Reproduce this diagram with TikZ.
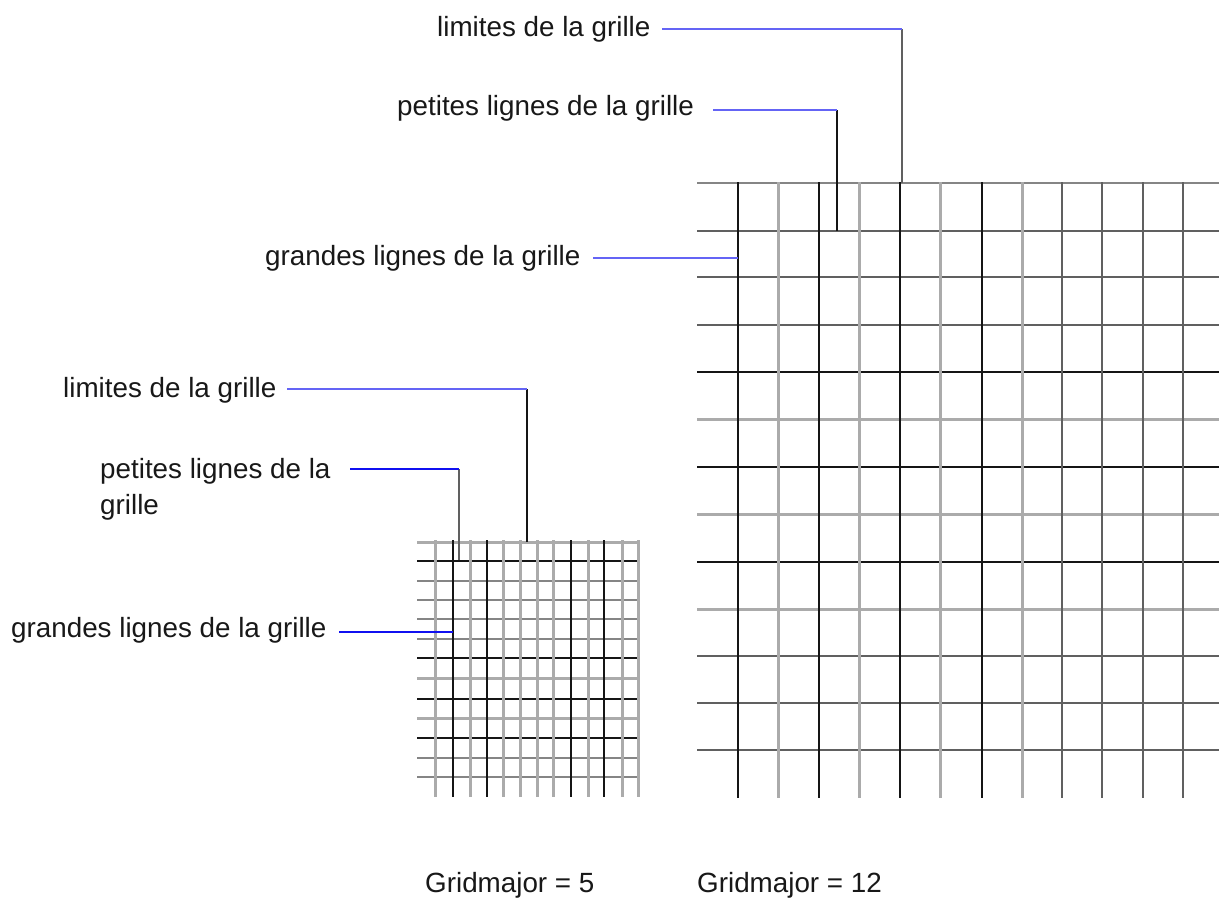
\documentclass[tikz,border=0pt]{standalone}
\usepackage{fontspec}
\setmainfont{Liberation Sans}
\begin{document}
\begin{tikzpicture}[x=1pt,y=-1pt,
  lab/.style={anchor=base west,inner sep=0pt,text=txt,font=\fontsize{27.8}{36}\selectfont},
  gl/.style={line width=3pt,draw=lightg},
  gm/.style={line width=2.8pt,draw=midg},
  gd/.style={line width=2.6pt,draw=darkg},
  gb/.style={line width=2.3pt,draw=blk},
  leadA/.style={line width=2.2pt,draw=blueA},
  leadB/.style={line width=2.2pt,draw=blueB},
  drop/.style={line width=2.5pt}]
\definecolor{lightg}{HTML}{ABABAB}
\definecolor{midg}{HTML}{858585}
\definecolor{darkg}{HTML}{606060}
\definecolor{blk}{HTML}{151515}
\definecolor{txt}{HTML}{181818}
\definecolor{blueA}{HTML}{6464F5}
\definecolor{blueB}{HTML}{1010F0}
\useasboundingbox (0,0) rectangle (1219,907);
\fill[white] (0,0) rectangle (1219,907);

% ---------- big grid (Gridmajor = 12) ----------
\foreach \y/\s in {183/gm,231/gd,277/gd,325/gd,372/gb,419/gl,467/gb,514/gl,562/gb,609/gl,656/gd,703/gd,750/gd}
  \draw[\s] (697,\y) -- (1219,\y);
\foreach \x/\s in {738/gb,778/gl,819/gb,859/gl,900/gb,940/gl,982/gb,1022/gl,1062/gd,1102/gd,1143/gd,1183/gd}
  \draw[\s] (\x,182) -- (\x,798);

% ---------- small grid (Gridmajor = 5) ----------
\foreach \y/\s in {542/gl,561/gb,581/gm,600/gm,619/gm,639/gm,658/gb,678/gl,699/gb,718/gl,738/gb,758/gm,777/gm}
  \draw[\s] (417,\y) -- (639,\y);
\foreach \x/\s in {435/gl,453/gb,470/gl,487/gb,503/gl,520/gl,537/gl,553/gl,571/gb,588/gl,604/gb,622/gl,638/gl}
  \draw[\s] (\x,540) -- (\x,797);

% ---------- labels ----------
\node[lab] (tl) at (437,37) {limites de la grille};
\node[lab] (tp) at (397,115) {petites lignes de la grille};
\node[lab] (tg) at (265,265) {grandes lignes de la grille};
\node[lab] (sl) at (63,397) {limites de la grille};
\node[lab,align=left] (sp) at (100,514) {petites lignes de la\\grille};
\node[lab] (sg) at (11,637) {grandes lignes de la grille};
\node[lab] (g5) at (425,892) {Gridmajor = 5};
\node[lab] (g12) at (697,892) {Gridmajor = 12};

% ---------- leader coordinates ----------
\coordinate (tlS) at (662,29);  \coordinate (tlC) at (902,29);  \coordinate (tlE) at (902,183);
\coordinate (tpS) at (713,110); \coordinate (tpC) at (837,110); \coordinate (tpE) at (837,231);
\coordinate (tgS) at (593,258); \coordinate (tgE) at (738,258);
\coordinate (slS) at (287,389); \coordinate (slC) at (527,389); \coordinate (slE) at (527,542);
\coordinate (spS) at (350,469); \coordinate (spC) at (459,469); \coordinate (spE) at (459,560);
\coordinate (sgS) at (339,632); \coordinate (sgE) at (453,632);

\draw[drop,draw=darkg] (tlC) -- (tlE);
\draw[leadA] (tlS) -- (tlC);
\draw[drop,draw=blk] (tpC) -- (tpE);
\draw[leadA] (tpS) -- (tpC);
\draw[leadA] (tgS) -- (tgE);
\draw[drop,draw=blk] (slC) -- (slE);
\draw[leadA] (slS) -- (slC);
\draw[drop,draw=darkg] (spC) -- (spE);
\draw[leadB] (spS) -- (spC);
\draw[leadB] (sgS) -- (sgE);
\end{tikzpicture}
\end{document}
